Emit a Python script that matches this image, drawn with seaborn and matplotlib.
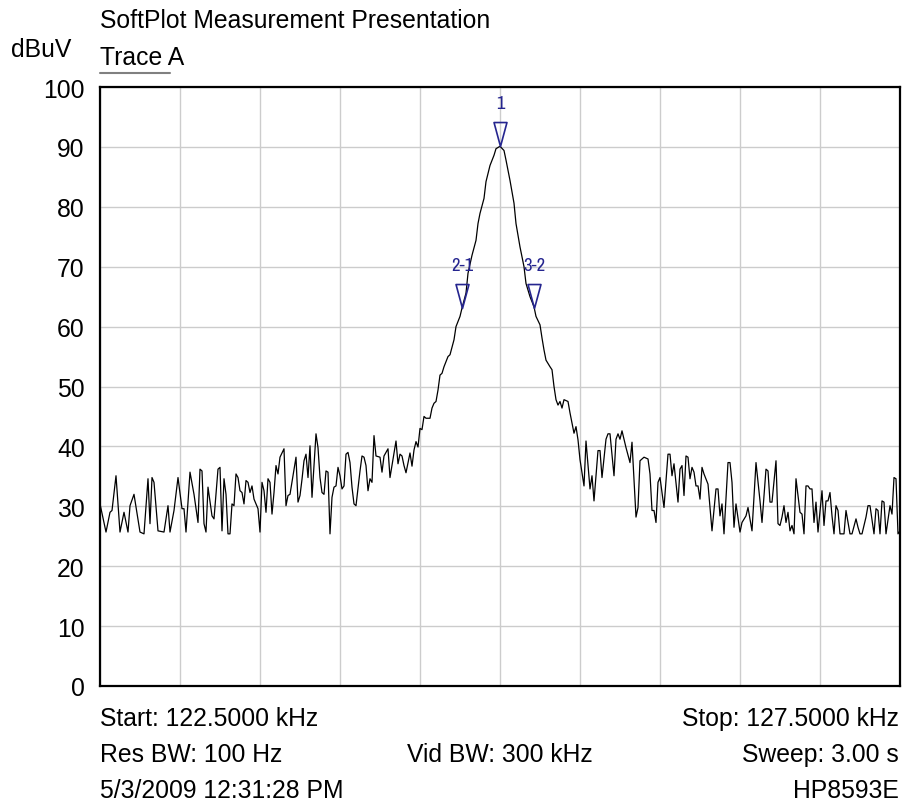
import numpy as np
import pandas as pd
import matplotlib
matplotlib.use("Agg")
import matplotlib.pyplot as plt
from matplotlib import font_manager
from matplotlib.path import Path
import seaborn as sns

# ---------------- data ----------------
start_khz = 122.5
stop_khz = 127.5
n_points = 401

trace_index = [
    0, 3, 5, 6, 8, 10, 12, 14, 15, 17, 20, 22, 24, 25, 26, 27, 29, 32, 34, 35,
    37, 39, 41, 42, 43, 45, 47, 49, 50, 51,
    52, 53, 54, 56, 57, 59, 60, 61, 62, 63, 64, 65, 66, 67, 68, 69, 70, 71, 72, 73,
    74, 75, 76, 77, 79, 80, 81, 82, 83, 84, 85, 86, 87, 88, 89, 90, 92, 93, 94, 95,
    97, 98, 99,
    100, 101, 102, 103, 104, 105, 106, 108, 109, 110, 111, 112, 113, 114, 115, 116, 117, 118, 119, 120,
    121, 122, 123, 124, 125, 126, 127, 128, 130, 131, 132, 133, 134, 135, 136, 137, 138, 140, 141, 142,
    144, 145, 146, 148, 149,
    150, 151, 152, 153, 155, 156, 157, 158, 159, 160, 161, 162, 163, 165, 166, 167, 168, 169, 170, 171,
    172, 174, 175, 177, 178, 180, 181, 183, 184, 186, 188, 189, 190, 192, 193, 195, 197, 198,
    200, 202, 203, 205, 207, 208, 210, 212, 213, 215, 217, 218, 220, 221, 222, 223, 225, 226, 227, 228,
    229, 230, 231, 232, 234, 235, 236, 237, 238, 239, 240,
    242, 243, 245, 246, 247, 249, 250, 251, 253, 254, 255, 257, 258, 259, 260, 261, 263, 265, 266, 268,
    269, 270, 272, 274, 275, 276, 277, 278, 279, 280, 282, 284, 285, 286, 287, 289,
    290, 291, 292, 293, 294, 295, 296, 297, 298, 299, 300, 301, 302, 304, 306, 308, 309, 310, 311, 312,
    314, 315, 316, 317, 318, 320, 321, 323, 324, 326, 328, 330, 331, 333, 334, 335, 336, 338, 339, 340,
    341, 342, 343, 344, 345, 346, 347, 348, 350, 351, 352, 353, 354, 355, 356, 357, 358, 359, 361, 362,
    363, 364, 365, 366, 367, 368, 369, 370, 372, 373, 375, 376, 378, 379, 380, 381, 383, 384, 385, 387,
    388, 389, 390, 391, 392, 393, 395, 396, 397, 398, 399, 400,
]

level_dbuv = [
    30.4, 25.7, 29.0, 29.3, 35.1, 25.7, 29.0, 25.7, 30.1, 32.0, 25.7, 25.4, 34.6, 27.1, 34.8, 34.0, 25.9, 25.7, 30.1, 25.7,
    29.3, 34.8, 29.6, 29.6, 25.7, 35.7, 32.0, 27.3, 36.2, 35.9,
    27.1, 25.7, 33.2, 28.4, 27.9, 36.2, 36.5, 25.9, 34.6, 32.0, 25.4, 25.4, 30.4, 30.1, 35.4, 34.8, 32.6, 32.3, 30.4, 34.3,
    34.0, 32.3, 33.4, 31.2, 29.6, 25.7, 34.0, 32.6, 29.0, 34.6, 34.0, 28.7, 32.3, 36.8, 35.4, 38.2, 39.6, 30.1, 31.8, 32.0,
    36.2, 38.2, 30.7,
    31.8, 34.5, 37.6, 38.7, 34.8, 40.1, 31.5, 42.1, 39.8, 34.8, 32.3, 32.0, 35.9, 35.7, 25.4, 31.5, 33.2, 33.4, 36.5, 35.1,
    32.9, 33.4, 38.7, 39.0, 37.3, 33.2, 30.4, 30.1, 35.9, 38.4, 38.2, 36.8, 32.6, 34.6, 34.0, 41.8, 38.4, 38.2, 35.7, 38.4,
    39.6, 34.8, 36.8, 40.9, 37.1,
    38.7, 38.4, 36.8, 35.6, 38.9, 36.7, 39.4, 40.8, 39.9, 43.0, 42.8, 45.0, 44.7, 44.7, 46.4, 47.2, 47.5, 49.4, 51.9, 52.2,
    53.3, 55.0, 55.3, 57.8, 60.0, 61.7, 63.1, 65.6, 68.9, 71.9, 74.4, 77.2, 78.9, 81.4, 84.2, 86.9, 88.6, 89.7,
    90.1, 89.4, 87.8, 84.4, 80.6, 77.2, 73.3, 70.0, 67.2, 65.0, 63.3, 61.7, 60.3, 58.1, 56.1, 54.4, 53.3, 52.8, 50.0, 47.8,
    46.9, 47.5, 46.4, 47.8, 47.5, 45.6, 43.9, 42.2, 43.3, 41.1, 37.8,
    33.4, 40.9, 32.9, 35.1, 30.9, 39.3, 39.3, 34.8, 41.2, 42.1, 42.1, 35.1, 41.2, 42.1, 41.2, 42.6, 39.8, 37.3, 40.7, 28.2,
    29.8, 37.6, 38.2, 37.9, 35.4, 29.3, 29.3, 27.3, 34.0, 34.8, 29.8, 38.7, 38.7, 35.1, 37.1, 30.7,
    36.2, 36.8, 31.8, 38.4, 38.2, 34.6, 36.5, 35.7, 33.4, 33.4, 31.2, 36.5, 35.4, 33.7, 25.9, 32.9, 32.9, 28.4, 30.4, 25.4,
    37.3, 37.3, 34.0, 26.5, 30.4, 25.7, 27.3, 28.4, 29.8, 25.9, 37.3, 30.9, 27.3, 36.2, 35.9, 30.7, 30.7, 37.6, 27.1, 26.8,
    28.2, 30.1, 27.3, 29.0, 25.9, 26.8, 25.4, 34.6, 29.0, 28.7, 25.4, 33.4, 33.4, 32.9, 32.9, 27.3, 30.7, 25.7, 32.6, 26.8,
    30.9, 30.9, 32.3, 28.4, 25.4, 30.1, 29.3, 25.4, 25.4, 29.3, 25.4, 25.4, 27.9, 26.5, 25.4, 25.4, 28.2, 30.1, 30.1, 25.4,
    29.6, 29.3, 25.4, 30.9, 30.7, 25.4, 30.1, 28.7, 34.8, 34.6, 25.4, 25.9,
]

marker_labels = ["1", "2-1", "3-2"]
marker_freq_khz = [125.0, 124.7625, 125.2125]
marker_level_dbuv = [90.1, 63.1, 63.1]

y_ticks = [0, 10, 20, 30, 40, 50, 60, 70, 80, 90, 100]

title_text = "SoftPlot Measurement Presentation"
unit_text = "dBuV"
trace_text = "Trace A"
info_left = ["Start: 122.5000 kHz", "Res BW: 100 Hz", "5/3/2009 12:31:28 PM"]
info_center = ["", "Vid BW: 300 kHz", ""]
info_right = ["Stop: 127.5000 kHz", "Sweep: 3.00 s", "HP8593E"]

# ---------------- figure ----------------
sns.set_theme(style="white")
plt.rcParams["font.family"] = ["Liberation Sans", "DejaVu Sans"]
plt.rcParams["text.color"] = "black"
plt.rcParams["xtick.color"] = "black"
plt.rcParams["ytick.color"] = "black"
plt.rcParams["axes.labelcolor"] = "black"

FS = 17.8
W, H = 902, 804
fig = plt.figure(figsize=(W / 100, H / 100), dpi=100)
ax = fig.add_axes([100 / W, 1 - 687 / H, 800 / W, 599 / H])

step_khz = (stop_khz - start_khz) / (n_points - 1)
df = pd.DataFrame({
    "freq": start_khz + np.array(trace_index) * step_khz,
    "level": level_dbuv,
})
sns.lineplot(data=df, x="freq", y="level", ax=ax, color="black",
             linewidth=0.9, estimator=None, sort=False, zorder=3)

ax.set_xlim(start_khz, stop_khz)
ax.set_ylim(0, 100)
ax.set_xticks(np.linspace(start_khz, stop_khz, 11))
ax.set_xticklabels([])
ax.set_yticks(y_ticks)
ax.set_yticklabels([str(v) for v in y_ticks], fontsize=FS, color="black")
ax.tick_params(axis="both", length=0)
ax.tick_params(axis="y", pad=11)
ax.set_xlabel("")
ax.set_ylabel("")
ax.grid(True, color="#cccccc", linewidth=1.0)
ax.set_axisbelow(True)
for s in ax.spines.values():
    s.set_visible(True)
    s.set_color("black")
    s.set_linewidth(1.6)

# marker glyphs: downward triangle with tip at the data point
tri = Path([(0, 0), (-0.27, 1), (0.27, 1), (0, 0)],
           [Path.MOVETO, Path.LINETO, Path.LINETO, Path.CLOSEPOLY])
navy = "#25258f"

label_font = None
for f in font_manager.fontManager.ttflist:
    if "Narrow" in f.name or "Condensed" in f.name:
        label_font = f.name
        break
lab_family = [label_font, "Liberation Sans"] if label_font else ["Liberation Sans"]

for lab, fx, lv in zip(marker_labels, marker_freq_khz, marker_level_dbuv):
    ax.plot([fx], [lv], marker=tri, markersize=34.5, markerfacecolor="none",
            markeredgecolor=navy, markeredgewidth=1.2, linestyle="none", zorder=4)
    ax.annotate(lab, xy=(fx, lv), xytext=(0, 27.5), textcoords="offset points",
                ha="center", va="baseline", color=navy, fontsize=13.5,
                family=lab_family)

# header texts
def fy(py):
    return 1 - py / H

fig.text(100 / W, fy(28.3), title_text, fontsize=FS, ha="left", va="baseline")
fig.text(11 / W, fy(56.7), unit_text, fontsize=FS, ha="left", va="baseline")
fig.text(100 / W, fy(65), trace_text, fontsize=FS, ha="left", va="baseline")
fig.add_artist(plt.Line2D([100 / W, 170 / W], [fy(74), fy(74)], color="#808080",
                          linewidth=1.5, transform=fig.transFigure))

# footer texts
baselines = [726, 761.7, 798.3]
for b, l, c, r in zip(baselines, info_left, info_center, info_right):
    fig.text(100 / W, fy(b), l, fontsize=FS, ha="left", va="baseline")
    if c:
        fig.text(500 / W, fy(b), c, fontsize=FS, ha="center", va="baseline")
    fig.text(899 / W, fy(b), r, fontsize=FS, ha="right", va="baseline")

fig.savefig("out.png", dpi=100)
